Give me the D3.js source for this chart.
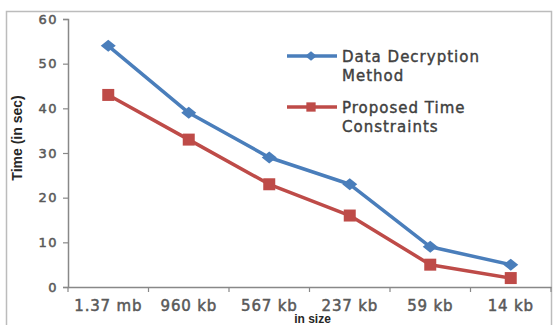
<!DOCTYPE html>
<html>
<head>
<meta charset="utf-8">
<script src="https://cdn.jsdelivr.net/npm/d3@7"></script>
<style>
  body { margin: 0; background: #fff; }
  svg { display: block; }
</style>
</head>
<body>
<svg id="container"></svg>
<script>
const sizes = ['1.37 mb', '960 kb', '567 kb', '237 kb', '59 kb', '14 kb']
const decryption = [54, 39, 29, 23, 9, 5]
const proposed = [43, 33, 23, 16, 5, 2]
const yTicks = [0, 10, 20, 30, 40, 50, 60]
const seriesNames = [['Data Decryption', 'Method'], ['Proposed Time', 'Constraints']]

const W = 553
const H = 325
const margin = { top: 19, right: 2, bottom: 38, left: 68 }
const w = W - margin.left - margin.right
const h = H - margin.top - margin.bottom

// wide diamond like the excel marker
const wideDiamond = {
  draw(context, size) {
    const r = Math.sqrt(size) / 2
    context.moveTo(-r * 1.25, 0)
    context.lineTo(0, -r)
    context.lineTo(r * 1.25, 0)
    context.lineTo(0, r)
    context.closePath()
  }
}

const svg = d3.select('#container').attr('width', W).attr('height', H)

// outer chart border
svg.append('rect')
  .attr('x', 6.5).attr('y', 11.5)
  .attr('width', 545).attr('height', 330)
  .attr('fill', 'none')
  .attr('stroke', '#bcbcbc')
  .attr('stroke-width', 1.5)

const g = svg.append('g')
  .attr('transform', `translate(${margin.left},${margin.top})`)

const x = d3.scaleBand().domain(sizes).range([0, w])
const y = d3.scaleLinear().domain([0, 60]).range([h, 0])

// y axis
const gY = g.append('g')
  .call(d3.axisLeft(y).tickValues(yTicks).tickSize(5).tickPadding(5))
gY.select('.domain').attr('stroke', '#888').attr('stroke-width', 1.5)
gY.selectAll('.tick line').attr('stroke', '#888').attr('stroke-width', 1.2)
gY.selectAll('.tick text')
  .attr('fill', '#595959')
  .attr('stroke', '#595959')
  .attr('stroke-width', 0.5)
  .style('font-family', 'DejaVu Sans')
  .style('font-size', '13px')
  .style('letter-spacing', '1.5px')

// x axis, ticks between categories
const gX = g.append('g')
  .attr('transform', `translate(0,${h})`)
  .call(d3.axisBottom(x).tickSize(0).tickPadding(13))
gX.select('.domain').attr('stroke', '#888').attr('stroke-width', 1.5)
gX.selectAll('.tick text')
  .attr('fill', '#595959')
  .attr('stroke', '#595959')
  .attr('stroke-width', 0.5)
  .style('font-family', 'DejaVu Sans')
  .style('font-size', '15px')
  .style('letter-spacing', '0.8px')
gX.selectAll('.between')
  .data(d3.range(sizes.length + 1))
  .join('line')
  .attr('class', 'between')
  .attr('x1', i => i * x.bandwidth())
  .attr('x2', i => i * x.bandwidth())
  .attr('y1', 0).attr('y2', 5)
  .attr('stroke', '#888').attr('stroke-width', 1.2)

// axis titles
svg.append('text')
  .attr('transform', `translate(22,${margin.top + h / 2 - 15}) rotate(-90)`)
  .attr('text-anchor', 'middle')
  .attr('fill', '#262626')
  .style('font-family', 'Liberation Sans')
  .style('font-weight', 'bold')
  .style('font-size', '14px')
  .text('Time (in sec)')

svg.append('text')
  .attr('x', margin.left + w / 2 + 3)
  .attr('y', H - 2)
  .attr('text-anchor', 'middle')
  .attr('fill', '#262626')
  .style('font-family', 'Liberation Sans')
  .style('font-weight', 'bold')
  .style('font-size', '12px')
  .text('in size')

const cx = d => x(d) + x.bandwidth() / 2
const line = d3.line().x((d, i) => cx(sizes[i])).y(d => y(d))

const series = [
  { values: decryption, color: '#4a7ebb', shape: wideDiamond, size: 144 },
  { values: proposed, color: '#be4b48', shape: d3.symbolSquare, size: 144 }
]

series.forEach(s => {
  g.append('path')
    .datum(s.values)
    .attr('d', line)
    .attr('fill', 'none')
    .attr('stroke', s.color)
    .attr('stroke-width', 3.5)
    .attr('stroke-linejoin', 'round')

  g.selectAll(null)
    .data(s.values)
    .join('path')
    .attr('transform', (d, i) => `translate(${cx(sizes[i])},${y(d)})`)
    .attr('d', d3.symbol().type(s.shape).size(s.size))
    .attr('fill', s.color)
})

// legend
const legend = svg.append('g')
legend.selectAll('g')
  .data(series)
  .join('g')
  .attr('transform', (d, i) => `translate(287,${56 + i * 51})`)
  .each(function (s, i) {
    const item = d3.select(this)
    item.append('line')
      .attr('x1', 0).attr('x2', 50)
      .attr('stroke', s.color).attr('stroke-width', 3.5)
    item.append('path')
      .attr('transform', 'translate(24,0)')
      .attr('d', d3.symbol().type(s.shape).size(s.size * 0.6))
      .attr('fill', s.color)
    item.selectAll('text')
      .data(seriesNames[i])
      .join('text')
      .attr('x', 55)
      .attr('y', (t, j) => 6 + j * 19)
      .attr('fill', '#404040')
      .attr('stroke', '#404040')
      .attr('stroke-width', 0.4)
      .style('font-family', 'DejaVu Sans')
      .style('font-size', '15px')
      .style('letter-spacing', '1px')
      .text(t => t)
  })
</script>
</body>
</html>
